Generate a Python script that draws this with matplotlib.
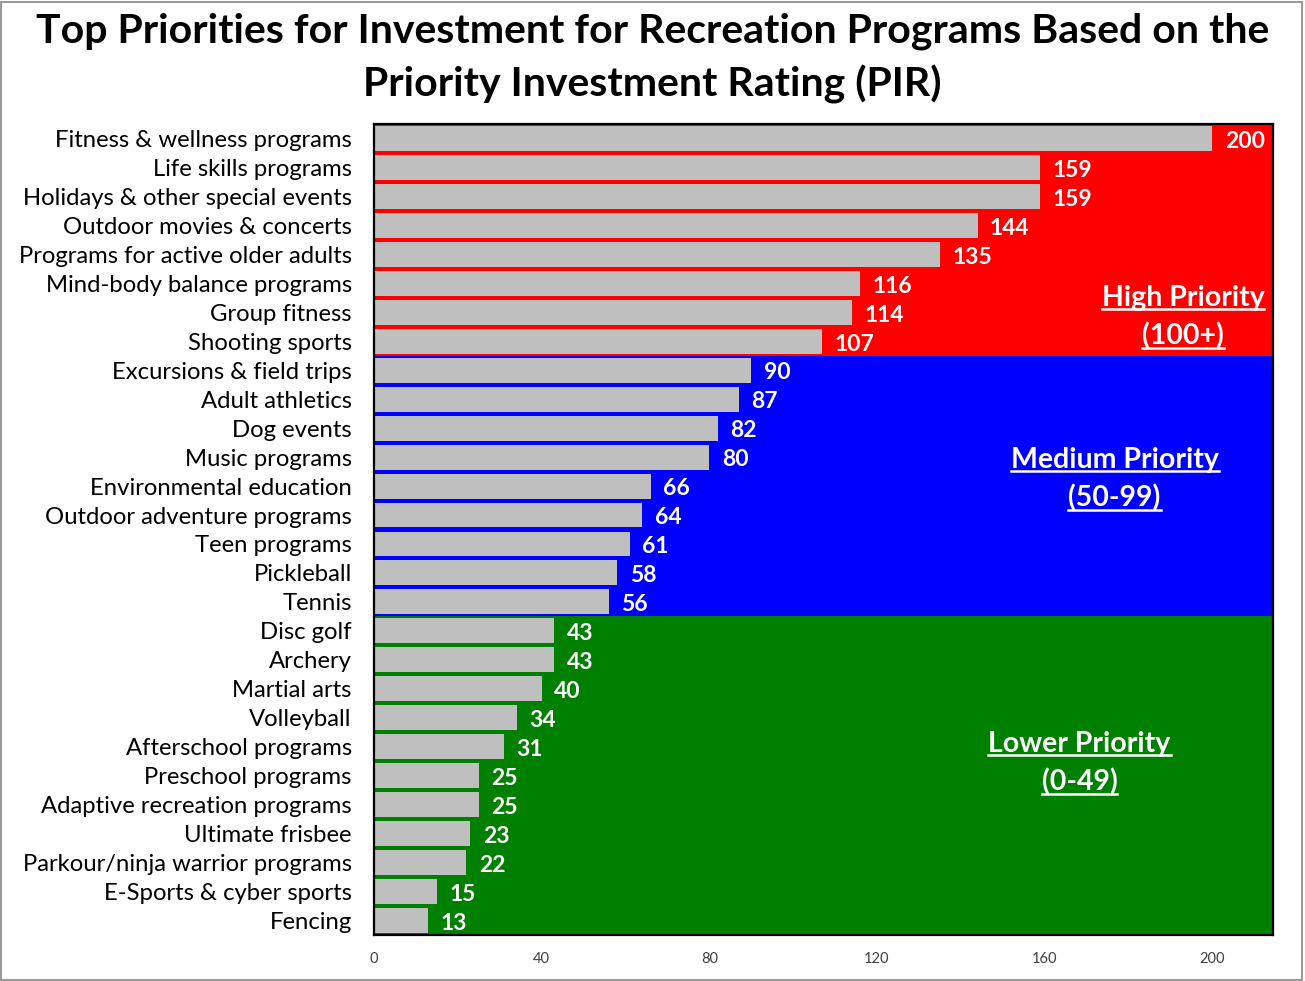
import matplotlib
matplotlib.use("Agg")
import matplotlib.pyplot as plt
from matplotlib.lines import Line2D
from matplotlib.patches import Rectangle
import numpy as np

plt.rcParams["font.family"] = ["Lato", "DejaVu Sans"]

# PIR scores per program, highest first
programs = [
    "Fitness & wellness programs", "Life skills programs",
    "Holidays & other special events", "Outdoor movies & concerts",
    "Programs for active older adults", "Mind-body balance programs",
    "Group fitness", "Shooting sports", "Excursions & field trips",
    "Adult athletics", "Dog events", "Music programs",
    "Environmental education", "Outdoor adventure programs", "Teen programs",
    "Pickleball", "Tennis", "Disc golf", "Archery", "Martial arts",
    "Volleyball", "Afterschool programs", "Preschool programs",
    "Adaptive recreation programs", "Ultimate frisbee",
    "Parkour/ninja warrior programs", "E-Sports & cyber sports", "Fencing",
]
scores = [200, 159, 159, 144, 135, 116, 114, 107, 90, 87, 82, 80, 66, 64, 61,
          58, 56, 43, 43, 40, 34, 31, 25, 25, 23, 22, 15, 13]
x_ticks = [0, 40, 80, 120, 160, 200]

# priority tiers: (label, range text, lower bound, upper bound, colour)
tiers = [
    ("High Priority", "(100+)", 100, 10_000, "#FF0000"),
    ("Medium Priority", "(50-99)", 50, 100, "#0000FF"),
    ("Lower Priority", "(0-49)", 0, 50, "#008000"),
]
label_pos = {"High Priority": (193, 5.5), "Medium Priority": (176.7, 11.1),
             "Lower Priority": (168.3, 20.9)}

fig = plt.figure(figsize=(13.05, 9.81), dpi=100)
ax = fig.add_axes([0.2866, 0.0469, 0.6889, 0.8267])

y = np.arange(len(programs))
vals = np.array(scores)

# coloured band behind each tier's rows
start = 0
for name, rng, lo, hi, col in tiers:
    count = int(np.sum((vals >= lo) & (vals < hi)))
    ax.axhspan(start - 0.5, start + count - 0.5, color=col, zorder=0, lw=0)
    start += count

ax.barh(y, vals, height=0.86, color="#BFBFBF", zorder=2)
for yi, v in zip(y, vals):
    ax.annotate(str(v), (v, yi), xytext=(9, -2), textcoords="offset points",
                ha="left", va="center", color="white", fontsize=16.5,
                fontweight="bold", zorder=3)

ax.set_xlim(0, 214.5)
ax.set_ylim(len(programs) - 0.5, -0.5)
ax.set_yticks(y)
ax.set_yticklabels(programs, fontsize=17.2)
ax.set_xticks(x_ticks)
ax.set_xticklabels([str(t) for t in x_ticks], fontsize=10.5, color="#404040")
ax.tick_params(axis="both", length=0)
ax.tick_params(axis="y", pad=16)
ax.tick_params(axis="x", pad=12)
for s in ax.spines.values():
    s.set_color("black")
    s.set_linewidth(1.6)
    s.set_zorder(4)

# underlined tier labels
fig.canvas.draw()
renderer = fig.canvas.get_renderer()
for name, rng, lo, hi, col in tiers:
    cx, cy = label_pos[name]
    for k, line in enumerate([name, rng]):
        t = ax.text(cx, cy + 1.32 * k, line, ha="center", va="center",
                    color="white", fontsize=20.5, fontweight="bold", zorder=5)
        bb = t.get_window_extent(renderer).transformed(fig.transFigure.inverted())
        uy = bb.y0 + 0.002
        fig.add_artist(Line2D([bb.x0, bb.x1], [uy, uy], color="white",
                              lw=1.8, transform=fig.transFigure, zorder=6))

fig.text(0.5, 0.968, "Top Priorities for Investment for Recreation Programs Based on the",
         ha="center", va="center", fontsize=29.5, fontweight="bold")
fig.text(0.5, 0.914, "Priority Investment Rating (PIR)",
         ha="center", va="center", fontsize=29.5, fontweight="bold")

fig.add_artist(Rectangle((0.001, 0.001), 0.997, 0.997, transform=fig.transFigure,
                         fill=False, edgecolor="#9A9A9A", lw=1.5))

fig.savefig("out.png", dpi=100, facecolor="white")
